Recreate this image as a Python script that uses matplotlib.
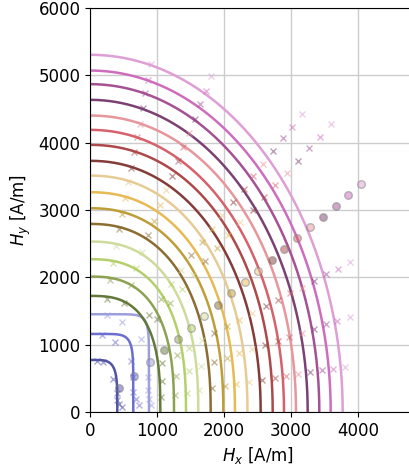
import matplotlib.pyplot as plt
import numpy as np

# intercepts of each fitted boundary curve [A/m]
hx_max = [402, 641, 876, 1045, 1250, 1429, 1613, 1798, 1987, 2161,
          2348, 2545, 2725, 2894, 3073, 3248, 3422, 3592, 3771]
hy_max = [773, 1159, 1452, 1724, 2011, 2269, 2531, 2793, 3026, 3264,
          3511, 3730, 3967, 4190, 4403, 4636, 4869, 5071, 5305]
# superellipse exponent of each curve
expo = [4.5, 7, 10, 2.8, 2.6, 2.5, 2.4, 2.3, 2.25, 2.2,
        2.15, 2.1, 2.1, 2.05, 2.05, 2.0, 2.0, 2.0, 2.0]

# diagonal measurements
diag_x = [433, 645, 895, 1104, 1313, 1507, 1701, 1910, 2104, 2313,
          2507, 2716, 2895, 3090, 3284, 3478, 3672, 3851, 4045]
diag_y = [357, 540, 743, 921, 1085, 1248, 1426, 1590, 1768, 1932,
          2088, 2258, 2415, 2585, 2749, 2897, 3061, 3224, 3388]

# measured switching points, one list per curve
meas_x = [
    [94, 184, 342, 393, 402, 432, 468],
    [169, 368, 600, 641, 641, 680, 720],
    [243, 468, 756, 866, 866, 880, 900],
    [251, 502, 878, 998, 1076, 1074, 1055],
    [300, 600, 1050, 1194, 1288, 1285, 1263],
    [343, 686, 1200, 1365, 1472, 1469, 1443],
    [387, 774, 1355, 1540, 1661, 1658, 1629],
    [432, 863, 1510, 1717, 1852, 1848, 1816],
    [477, 954, 1669, 1898, 2047, 2043, 2007],
    [519, 1037, 1815, 2064, 2226, 2222, 2183],
    [564, 1127, 1972, 2242, 2418, 2414, 2371],
    [611, 1222, 2138, 2430, 2621, 2616, 2570],
    [654, 1308, 2289, 2602, 2807, 2801, 2752],
    [695, 1389, 2431, 2764, 2981, 2975, 2923],
    [738, 1475, 2581, 2935, 3165, 3159, 3104],
    [780, 1559, 2728, 3102, 3345, 3339, 3280],
    [821, 1643, 2874, 3268, 3525, 3518, 3456],
    [862, 1724, 3017, 3430, 3700, 3693, 3628],
    [905, 1810, 3168, 3601, 3884, 3877, 3809],
]
meas_y = [
    [758, 748, 490, 278, 178, 119, 70],
    [1144, 1045, 760, 520, 300, 200, 100],
    [1441, 1342, 1080, 525, 327, 200, 100],
    [1677, 1621, 1440, 1388, 724, 460, 219],
    [1957, 1890, 1679, 1619, 845, 537, 255],
    [2208, 2133, 1895, 1827, 953, 606, 288],
    [2463, 2379, 2113, 2037, 1063, 676, 321],
    [2718, 2625, 2332, 2248, 1173, 746, 355],
    [2944, 2844, 2527, 2436, 1271, 808, 384],
    [3176, 3068, 2725, 2628, 1371, 871, 415],
    [3416, 3300, 2932, 2826, 1475, 937, 446],
    [3629, 3506, 3115, 3003, 1567, 996, 474],
    [3860, 3729, 3312, 3193, 1666, 1059, 504],
    [4077, 3939, 3499, 3373, 1760, 1119, 532],
    [4284, 4139, 3677, 3544, 1849, 1176, 559],
    [4511, 4358, 3871, 3732, 1947, 1238, 589],
    [4738, 4577, 4066, 3920, 2045, 1300, 618],
    [4934, 4767, 4234, 4082, 2130, 1354, 644],
    [5162, 4987, 4430, 4271, 2228, 1416, 674],
]

colors = [plt.cm.tab20b(i) for i in range(1, 20)]

fig = plt.figure(figsize=(4.10, 4.66), dpi=100)
ax = fig.add_axes([90.4 / 410, 54 / 466, 5000 * 0.0669 / 410, 404 / 466])

t = np.linspace(0, np.pi / 2, 400)
for a, b, n, c in zip(hx_max, hy_max, expo, colors):
    x = a * np.cos(t) ** (2 / n)
    y = b * np.sin(t) ** (2 / n)
    ax.plot(x, y, color=c, lw=1.8)

for mx, my, c in zip(meas_x, meas_y, colors):
    ax.plot(mx, my, 'x', ms=5, mew=1, color=c, alpha=0.5, ls='none')

for xd, yd, c in zip(diag_x, diag_y, colors):
    ax.plot(xd, yd, 'o', ms=5.5, mfc=c, mec='gray', alpha=0.5)

ax.set_xlim(0, 5000)
ax.set_ylim(0, 6000)
ax.set_xticks([0, 1000, 2000, 3000, 4000])
ax.set_yticks(np.arange(0, 6001, 1000))
ax.grid(True, color='#cccccc', lw=1)
ax.set_axisbelow(True)
ax.tick_params(labelsize=12)
ax.set_xlabel(r'$H_x$ [A/m]', fontsize=12)
ax.set_ylabel(r'$H_y$ [A/m]', fontsize=12)

fig.savefig('out.png', dpi=100)
